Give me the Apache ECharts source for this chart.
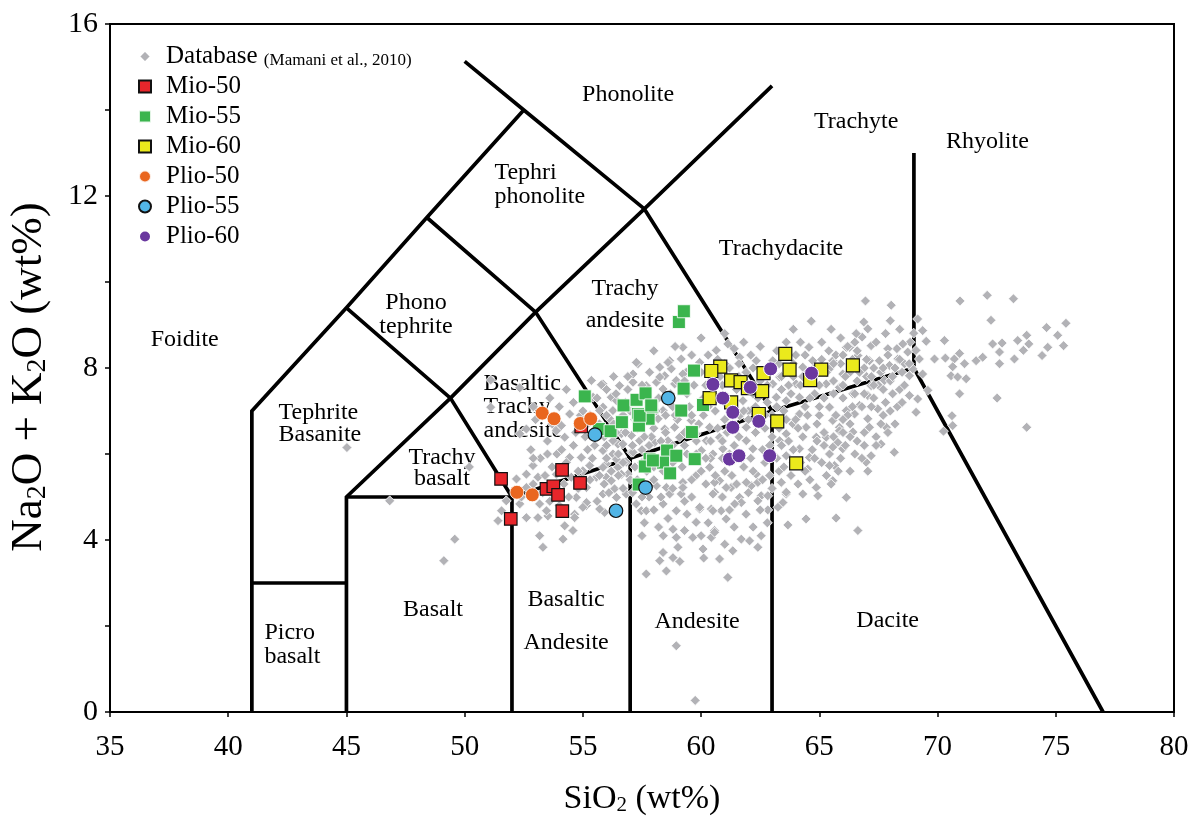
<!DOCTYPE html>
<html>
<head>
<meta charset="utf-8">
<title>TAS diagram</title>
<script src="https://cdn.jsdelivr.net/npm/echarts@6/dist/echarts.min.js"></script>
<style>
  html, body { margin: 0; padding: 0; background: #fff; }
  #chart { width: 1197px; height: 823px; }
</style>
</head>
<body>
<div id="chart"></div>
<script>
// ---- data (SiO2 wt%, Na2O + K2O wt%) ----
const seriesNames = ['Database', 'Mio-50', 'Mio-55', 'Mio-60', 'Plio-50', 'Plio-55', 'Plio-60'];
const xTicks = { min: 35, max: 80, step: 5 };
const yTicks = { min: 0, max: 16, step: 4 };

// Compiled regional database (Mamani et al., 2010)
const database = [
  [66.95,9.56],[68.04,9.46],[66.88,9.07],[67.05,8.91],[66.81,8.72],[69.16,9.14],[69.37,8.87],[68.99,8.81],
  [69.52,8.62],[68.84,8.60],[68.53,8.56],[68.28,8.45],[67.90,8.45],[67.19,8.52],[66.28,8.48],[66.63,8.29],
  [67.12,8.17],[67.54,8.17],[67.97,8.06],[68.32,8.21],[68.74,8.37],[69.09,8.41],[69.23,8.21],[68.95,7.98],
  [68.81,7.82],[69.37,7.86],[67.75,7.71],[67.19,7.59],[67.05,7.36],[66.70,7.13],[66.49,6.93],[67.47,7.05],
  [67.83,6.62],[67.05,6.82],[67.12,6.62],[66.42,6.51],[65.85,6.62],[65.78,6.27],[65.29,6.39],[65.43,6.00],
  [65.99,6.12],[67.61,6.23],[68.17,6.04],[67.19,5.96],[66.98,5.81],[65.64,5.73],[67.05,5.60],[68.81,7.36],
  [69.16,7.28],[69.09,6.97],[69.59,7.48],[70.61,6.89],[70.64,6.66],[70.25,6.53],[70.93,7.40],[70.29,8.64],
  [69.87,8.21],[70.33,8.23],[70.71,8.21],[70.93,8.34],[71.14,8.10],[70.64,8.03],[70.57,7.82],[70.85,7.79],
  [71.21,7.75],[70.95,9.56],[72.10,9.69],[73.21,9.61],[72.26,9.11],[71.63,8.17],[71.91,8.25],[72.33,8.56],
  [72.73,8.58],[72.62,8.37],[72.62,8.10],[73.25,8.21],[73.39,8.64],[73.77,8.76],[73.86,8.56],[73.63,8.41],
  [74.61,8.94],[75.43,9.04],[75.08,8.76],[75.33,8.52],[74.66,8.48],[74.42,8.29],[72.52,7.30],[73.77,6.62],
  [64.66,9.09],[61.13,8.56],[64.56,8.48],[66.14,8.48],[66.56,8.80],[65.57,8.17],[57.33,8.10],[58.67,8.17],
  [59.16,8.21],[57.82,7.90],[58.46,7.82],[58.74,7.98],[59.94,8.13],[59.37,7.90],[58.88,7.63],[58.11,7.67],
  [55.85,7.63],[56.55,7.59],[57.12,7.67],[56.20,7.32],[55.85,7.09],[58.18,6.82],[58.39,7.01],[58.67,7.17],
  [58.46,6.58],[58.88,6.62],[59.09,6.39],[58.60,6.31],[58.04,6.27],[57.40,6.31],[57.05,6.43],[56.63,6.47],
  [56.48,6.23],[56.27,6.00],[57.05,6.04],[55.99,5.77],[56.48,5.69],[56.90,5.53],[55.99,5.46],[56.34,5.19],
  [56.83,5.07],[58.11,5.26],[58.53,5.22],[59.23,5.34],[59.16,5.07],[59.79,5.50],[60.36,5.69],[60.57,5.11],
  [60.78,5.38],[61.27,5.22],[61.63,4.99],[62.12,5.26],[62.33,5.53],[62.54,5.03],[63.39,5.34],[63.60,5.07],
  [64.51,5.65],[64.87,5.22],[65.57,5.38],[66.14,4.99],[65.43,5.73],[60.22,6.31],[60.50,6.00],[60.01,6.08],
  [59.79,6.47],[59.58,6.78],[60.36,6.62],[60.78,6.39],[60.92,6.12],[61.91,6.31],[62.19,6.12],[61.91,6.62],
  [62.12,7.01],[61.63,6.89],[61.77,7.24],[63.32,6.31],[63.60,6.47],[63.88,6.70],[64.16,6.93],[64.44,6.62],
  [64.87,6.39],[64.16,6.12],[63.60,5.96],[64.58,5.92],[65.57,6.16],[65.85,6.54],[65.57,6.78],[65.43,7.09],
  [66.14,7.01],[66.42,7.40],[65.85,7.55],[65.29,7.63],[64.02,7.63],[64.16,7.32],[63.60,7.24],[63.18,7.32],
  [63.03,7.63],[63.32,7.79],[64.30,8.02],[64.72,8.17],[65.43,7.98],[65.99,7.86],[63.03,8.17],[62.33,8.17],
  [61.63,8.25],[60.64,8.41],[59.23,8.48],[57.26,8.13],
  [65.50,5.30],[64.94,5.03],[64.30,5.07],[63.60,5.11],[63.46,4.87],[63.25,4.76],[62.82,4.70],[62.82,5.03],
  [62.40,4.91],[61.70,4.87],[61.42,4.84],[61.06,4.49],[60.85,4.68],[60.43,4.72],[60.50,5.07],[59.94,4.72],
  [63.67,4.35],[64.44,4.49],[65.71,4.51],[66.63,4.22],[60.57,4.22],[60.43,4.06],[61.70,4.02],[62.05,3.98],
  [62.54,4.10],[62.40,3.83],[61.34,3.75],[60.08,3.79],[60.11,3.58],[60.78,3.56],[61.13,3.13],[61.91,5.34],
  [62.40,5.34],[61.06,5.22],[60.57,5.34],
  [49.58,4.02],[49.12,3.52],[51.41,4.45],[51.56,4.68],[53.17,4.10],[53.31,3.83],[54.16,4.02],[54.58,4.22],
  [54.23,4.33],[53.52,4.56],[53.10,4.52],[54.65,4.60],[55.15,4.80],[55.92,4.64],[57.47,4.68],[57.68,3.21],
  [58.25,3.52],[58.53,3.28],[58.39,3.71],[58.81,3.59],[59.02,3.83],[58.95,4.06],[59.30,4.22],[58.81,4.25],
  [59.79,4.41],[59.65,4.06],[60.57,4.18],[58.95,4.68],[59.94,4.76],[60.50,4.68],[58.95,1.54],[59.75,0.27],
  [51.10,7.72],[52.33,7.54],[51.10,7.09],[52.33,6.47],[52.61,6.58],[53.88,6.54],[54.09,6.66],[54.23,6.39],
  [54.44,6.93],[55.36,7.71],[55.78,7.61],[55.43,7.32],[55.71,7.01],[56.13,6.82],[56.42,7.24],[56.27,7.01],
  [58.25,8.02],[58.60,8.13],[57.68,7.59],[58.39,7.51],[58.25,7.79],[58.95,7.71],[59.23,7.86],[56.27,6.31],
  [56.69,6.23],[55.85,6.08],[56.42,5.88],[56.83,5.81],[57.12,6.04],[55.85,5.69],[55.29,5.73],[54.93,5.92],
  [54.44,5.92],[55.00,5.61],[55.57,5.46],[56.20,5.38],[56.63,5.53],[55.15,5.22],[55.85,5.07],[56.42,4.99],
  [54.72,4.99],[55.15,4.87],[55.71,4.72],[52.61,5.53],[52.89,5.73],[53.10,5.46],[52.61,5.22],[52.19,5.42],
  [51.76,4.91],[52.33,4.84],[52.61,4.52],[53.17,4.84],[53.46,4.68],[54.51,5.46],[53.88,5.53],[55.00,4.76],
  [54.65,4.52],[57.26,4.84],[57.68,4.68],[58.39,4.84],[58.67,5.07],[59.23,5.22],[57.12,7.86],
  [45.02,6.15],[46.83,4.91],[50.20,5.70],
  [60.2,7.6],[60.6,7.0],[61.0,6.8],[61.5,7.5],[62.0,7.0],[62.3,6.5],[62.8,7.2],[63.0,6.9],[63.5,7.0],
  [63.8,7.4],[64.0,6.8],[64.4,7.1],[64.8,7.4],[65.0,6.9],[65.2,7.3],[65.6,7.7],[66.0,7.6],[66.3,7.9],
  [66.6,7.7],[66.9,8.0],[67.3,8.0],[67.9,8.3],[68.2,8.0],[68.6,8.1],[66.4,8.2],[65.9,8.1],[67.0,7.8],
  [67.5,7.6],[68.0,7.7],[68.4,7.5],[67.8,7.2],[67.3,7.3],[66.8,7.1],[66.2,6.9],[64.9,6.3],[64.3,6.4],
  [63.9,6.1],[63.2,5.9],[62.7,5.8],[62.2,5.6],[61.8,5.7],[61.3,5.5],[60.9,5.9],[60.4,6.3],[59.9,6.7],
  [59.5,7.1],[59.0,6.8],[58.7,7.4],[60.0,7.9],[60.7,8.2],[61.2,8.0],[61.9,7.9],[62.6,7.9],[63.3,8.1],
  [64.0,8.3],[64.5,7.9],[65.1,8.2],[65.7,8.3],[66.2,8.5],[63.6,8.6],[62.1,8.3],[61.4,8.45],[60.3,8.3],
  [55.5,6.2],[55.9,6.4],[56.3,6.7],[56.8,6.5],[57.1,6.2],[57.5,6.1],[57.9,6.4],[58.3,6.3],[58.0,6.6],
  [57.6,6.9],[57.0,7.0],[56.5,6.0],[56.0,5.9],[55.4,5.9],[54.8,5.6],[54.3,5.8],[53.9,6.0],[54.6,6.2],
  [55.1,6.4],[58.9,6.9],[59.3,6.2],[59.6,5.9],[58.8,5.2],[58.3,5.0],[57.8,5.0],[57.3,5.4],[56.7,5.2],
  [56.1,5.1],[55.6,4.9],[54.8,5.2],[54.2,5.3],[53.7,5.7],[53.2,5.9],[52.8,6.1],[53.5,6.3],
  [59.4,6.0],[59.8,6.3],[60.1,6.9],[60.5,7.3],[60.9,7.6],[61.1,6.5],[61.4,6.2],[61.7,5.9],[62.0,6.8],
  [62.4,7.3],[62.7,6.6],[62.9,6.2],[63.3,6.6],[63.7,6.3],[62.5,7.7],[61.6,7.8],[60.8,7.8],[59.7,7.6],
  [59.4,7.4],[60.1,7.3],[61.0,7.2],[62.2,7.4],
  [63.4,7.5],[63.9,7.8],[64.2,7.6],[64.7,7.7],[65.0,7.6],[65.3,7.9],[64.6,7.3],[64.9,6.7],[65.2,6.5],
  [65.7,6.9],[66.0,6.5],[66.3,6.7],[66.6,6.3],[66.9,6.5],[66.1,6.2],[65.9,5.9],[66.5,6.0],[67.4,6.4],
  [67.7,6.9],[68.0,7.0],[68.3,7.1],[68.6,7.6],[68.1,7.4],[67.6,7.9],[67.2,7.8],[66.5,7.4],[66.0,7.3],
  [65.6,7.4],[65.0,7.1],[64.5,6.9],[64.1,6.6],[63.6,6.8],[64.7,6.1],[64.2,5.8],[63.8,5.5],[63.3,5.6],
  [62.9,5.5],[65.3,5.5],[66.3,5.6],[66.8,5.9],
  [55.6,7.3],[56.0,7.5],[56.4,7.4],[56.9,7.5],[57.3,7.3],[57.8,7.2],[58.2,7.3],[58.5,6.9],[58.8,6.2],
  [58.2,5.9],[57.7,5.6],[57.2,5.7],[56.7,5.8],[56.2,5.6],[55.7,5.5],[55.3,5.4],[55.2,6.1],[55.7,6.7],
  [56.0,6.9],[56.7,6.9],[57.3,6.6],[57.8,6.2],[58.4,5.6],[58.0,5.4],[57.5,5.0],[57.1,5.1],
  [52.4,5.0],[52.9,5.3],[53.3,5.1],[53.6,4.9],[54.0,4.8],[54.4,5.0],[54.9,5.4],[53.4,5.5],[52.9,5.9],
  [53.5,6.0],[54.1,6.1],[54.7,6.5],[55.2,6.7],[54.9,6.9],[54.6,7.2],[55.0,7.0],[53.7,6.7],[53.0,6.8],
  [52.9,7.1],[53.6,7.3],[54.3,7.5],[54.0,7.1],
  [58.0,8.4],[58.9,8.5],[59.6,8.3],[60.0,8.7],[61.0,8.8],[61.8,8.6],[62.5,8.5],[63.2,8.4],[63.9,8.9],
  [64.2,8.6],[65.1,8.6],[65.5,8.9],[65.9,8.7],[66.5,8.6],[67.4,8.6],[67.8,8.8],[68.4,8.9],[68.0,9.1],
  [59.4,4.6],[59.6,5.0],[60.2,5.3],[60.9,5.0],[61.2,4.7],[61.9,4.6],[62.2,4.3],[62.8,4.4],[62.5,4.7],
  [61.4,4.3],[61.0,3.9],[60.3,4.4],[60.0,4.1],[59.3,4.9],[58.6,4.5],[58.2,4.3],[58.0,4.7],[57.6,4.4],
  [57.5,4.1],[58.4,4.1],[59.1,3.5],
  [60.3,7.1],[60.7,6.6],[61.2,6.0],[61.6,6.4],[62.1,5.9],[62.6,6.1],[63.0,6.4],[63.4,6.2],[63.9,5.8],
  [64.4,5.6],[64.8,5.9],[65.2,6.2],[65.6,6.4],[66.0,6.8],[66.4,7.1],[66.9,7.4],[67.3,7.6],[67.7,7.5],
  [68.1,7.8],[68.5,7.9],[68.8,8.1],[68.4,8.2],[67.7,8.0],[67.0,8.2],[66.6,8.4],[66.0,8.3],[65.4,8.4],
  [64.8,8.0],[64.3,7.8],[63.7,7.6],[63.2,7.1],[62.7,6.9],[62.3,7.1],[61.8,7.0],[61.3,6.6],[60.9,6.3],
  [60.4,5.9],[60.0,5.6],[59.6,5.4],[59.2,5.7],[58.8,5.8],[58.5,6.5],[58.8,7.1],[59.3,7.7],[59.8,8.0],
  [60.4,7.8],[61.0,8.1],[61.6,8.1],[62.2,8.0],[62.8,7.6],[63.4,7.8],[63.9,8.1],[64.4,8.3],[65.0,8.0],
  [65.6,8.1],[66.1,7.8],[66.7,7.9],[67.2,7.1],[67.6,6.7],[68.2,6.7],[68.5,7.2],[67.9,6.5],[67.4,6.2],
  [66.9,6.2],[66.3,6.4],[65.8,5.6],[65.1,5.8],[64.6,5.4],[64.1,5.3],[63.5,5.7],[63.0,5.2],[62.6,5.4],
  [62.0,5.1],[61.5,5.3],[61.0,5.6],[60.6,5.5],[60.2,5.9],[59.8,6.0],[59.3,6.5],[59.6,6.9],[57.6,6.4],
  [57.2,6.8],[56.8,7.2],[56.4,6.5],[56.0,6.2],[55.6,6.4],[55.3,6.9],[55.9,5.3],[56.5,5.5],[57.0,5.4],
  [57.5,5.8],[58.0,5.7],[58.6,6.0],[58.1,7.0],[57.5,7.6],[56.9,7.8],[56.3,7.8]
];

const mio50 = [
  [51.54,5.42],[51.95,4.49],[53.46,5.19],[53.75,5.25],[53.95,5.05],[54.12,5.63],[54.88,5.33],[54.13,4.67],
  [54.93,6.64]
];
const mio55 = [
  [59.06,9.07],[59.27,9.32],[55.08,7.34],[55.68,6.58],[56.17,6.53],[56.65,6.74],[56.72,7.13],[57.27,7.26],
  [57.65,7.41],[57.33,6.93],[57.78,6.82],[57.91,7.10],[57.37,6.66],[57.40,6.89],[59.16,7.01],[59.70,7.94],
  [59.26,7.52],[60.08,7.14],[59.61,6.51],[58.56,6.08],[57.82,5.88],[57.62,5.71],[58.39,5.80],[58.69,5.55],
  [58.95,5.96],[57.36,5.29],[59.73,5.88],[57.96,5.85],[57.89,7.13]
];
const mio60 = [
  [60.81,8.03],[60.43,7.93],[61.27,7.71],[61.67,7.67],[60.36,7.30],[61.27,7.20],[62.58,7.46],[62.64,7.88],
  [62.44,6.93],[63.22,6.76],[63.56,8.33],[63.74,7.96],[65.08,7.96],[64.61,7.72],[66.42,8.06],[64.02,5.78],
  [61.98,7.53]
];
const plio50 = [
  [53.28,6.95],[53.78,6.82],[54.89,6.71],[55.33,6.82],[52.21,5.11],[52.86,5.05]
];
const plio55 = [
  [55.51,6.45],[58.61,7.30],[57.65,5.22],[56.40,4.68]
];
const plio60 = [
  [60.50,7.62],[60.92,7.30],[61.34,6.97],[61.34,6.62],[62.08,7.55],[62.94,7.98],[62.44,6.76],[61.20,5.88],
  [61.60,5.96],[62.90,5.96],[64.67,7.88]
];

// TAS field boundaries (Le Bas et al., 1986)
const boundaries = [
  [[41,0],[41,7],[45,9.4],[48.4,11.5],[52.5,14]],
  [[41,3],[45,3]],
  [[45,0],[45,5],[49.4,7.3],[53,9.3],[57.6,11.7],[63,14.56]],
  [[45,5],[52,5]],
  [[52,0],[52,5],[57,5.9],[63,7],[69,8]],
  [[45,9.4],[49.4,7.3],[52,5]],
  [[48.4,11.5],[53,9.3],[57,5.9],[57,0]],
  [[50,15.13],[52.5,14],[57.6,11.7],[63,7],[63,0]],
  [[69,13],[69,8],[77,0]]
];

// Field names with their anchor in data space
const fieldLabels = [
  ['Foidite', 38.16, 8.65],
  ['Tephrite\nBasanite', 42.11, 6.70],
  ['Phono\ntephrite', 47.94, 9.23],
  ['Tephri\nphonolite', 51.24, 12.26],
  ['Phonolite', 56.91, 14.35],
  ['Trachy\nbasalt', 49.04, 5.66],
  ['Basaltic\nTrachy\nandesite', 50.78, 7.09],
  ['Trachy\nandesite', 56.78, 9.47],
  ['Trachydacite', 63.38, 10.78],
  ['Trachyte', 66.56, 13.72],
  ['Rhyolite', 72.11, 13.26],
  ['Picro\nbasalt', 41.51, 1.56],
  ['Basalt', 48.66, 2.37],
  ['Basaltic', 54.29, 2.60],
  ['Andesite', 54.29, 1.60],
  ['Andesite', 59.83, 2.10],
  ['Dacite', 67.89, 2.12]
];

// ---- rendering ----
const SERIF = '"Liberation Serif", "Times New Roman", serif';

// text layout of multi-line field names
const leftAligned = { 'Tephrite\nBasanite': 22, 'Tephri\nphonolite': 24, 'Basaltic\nTrachy\nandesite': 23.5, 'Picro\nbasalt': 24 };
const centreLineHeight = { 'Phono\ntephrite': 24, 'Trachy\nandesite': 32, 'Trachy\nbasalt': 21 };

const labelData = fieldLabels.map(([name, x, y]) => {
  const item = { name: name, value: [x, y] };
  if (leftAligned[name]) {
    item.label = { position: 'right', distance: 0, align: 'left', lineHeight: leftAligned[name] };
  } else {
    item.label = { position: 'inside', align: 'center', lineHeight: centreLineHeight[name] || 24 };
  }
  return item;
});

const markerStyles = {
  'Database': { symbol: 'diamond', size: 10, color: '#b2b2b6', border: '#ffffff', bw: 0.8, z: 3 },
  'Mio-50':   { symbol: 'rect', size: 12.5, color: '#e8262b', border: '#111111', bw: 1.2, z: 4 },
  'Mio-55':   { symbol: 'rect', size: 13, color: '#3bb54e', border: 'rgba(255,255,255,0.85)', bw: 1, z: 4 },
  'Mio-60':   { symbol: 'rect', size: 13, color: '#ebea1c', border: '#111111', bw: 1.2, z: 4 },
  'Plio-50':  { symbol: 'circle', size: 14, color: '#e9661f', border: 'rgba(255,255,255,0.85)', bw: 1, z: 4 },
  'Plio-55':  { symbol: 'circle', size: 13.5, color: '#52b5e6', border: '#111111', bw: 1.2, z: 4 },
  'Plio-60':  { symbol: 'circle', size: 14, color: '#6a389f', border: '#ffffff', bw: 1, z: 4 }
};
const seriesData = [database, mio50, mio55, mio60, plio50, plio55, plio60];

const scatterSeries = seriesNames.map((name, i) => {
  const st = markerStyles[name];
  return {
    name: name,
    type: 'scatter',
    data: seriesData[i],
    symbol: st.symbol,
    symbolSize: st.size,
    z: st.z,
    itemStyle: { color: st.color, borderColor: st.border, borderWidth: st.bw, opacity: 1 },
    emphasis: { disabled: true },
    silent: true
  };
});

const boundarySeries = boundaries.map((pts, i) => ({
  name: 'boundary-' + i,
  type: 'line',
  data: pts,
  showSymbol: false,
  symbol: 'none',
  z: 1,
  silent: true,
  lineStyle: { color: '#000', width: 3.7, join: 'miter', cap: 'butt' },
  emphasis: { disabled: true }
}));

const labelSeries = {
  name: 'fields',
  type: 'scatter',
  data: labelData,
  symbolSize: 1,
  z: 2,
  silent: true,
  itemStyle: { color: 'rgba(0,0,0,0)', opacity: 1 },
  label: {
    show: true,
    formatter: p => p.name,
    fontFamily: SERIF,
    fontSize: 24,
    color: '#000',
    opacity: 1,
    textBorderWidth: 0
  },
  labelLayout: { hideOverlap: false },
  emphasis: { disabled: true }
};

const chart = echarts.init(document.getElementById('chart'), null, { renderer: 'canvas' });
chart.setOption({
  animation: false,
  backgroundColor: '#ffffff',
  grid: {
    left: 110, top: 24, width: 1064, height: 688,
    show: true, borderColor: '#000', borderWidth: 2, backgroundColor: 'transparent',
    containLabel: false, outerBoundsMode: 'none'
  },
  legend: {
    data: seriesNames,
    orient: 'vertical',
    left: 138,
    top: 44,
    padding: 0,
    itemWidth: 12,
    itemHeight: 12,
    itemGap: 5,
    selectedMode: false,
    formatter: name => name === 'Database'
      ? '{g| }{a|Database }{b|(Mamani et al., 2010)}'
      : '{g| }{a|' + name + '}',
    textStyle: {
      fontFamily: SERIF,
      color: '#000',
      rich: {
        g: { width: 10, fontSize: 10, lineHeight: 25 },
        a: { fontFamily: SERIF, fontSize: 25, lineHeight: 25, color: '#000', verticalAlign: 'bottom' },
        b: { fontFamily: SERIF, fontSize: 17, lineHeight: 17, color: '#000', verticalAlign: 'bottom' }
      }
    }
  },
  xAxis: {
    type: 'value',
    min: xTicks.min, max: xTicks.max, interval: xTicks.step,
    name: '{m|SiO}{s|2}{m| (wt%)}',
    nameLocation: 'middle',
    nameGap: 70,
    nameTextStyle: {
      rich: {
        m: { fontFamily: SERIF, fontSize: 34, lineHeight: 34, color: '#000', verticalAlign: 'bottom' },
        s: { fontFamily: SERIF, fontSize: 21, lineHeight: 21, color: '#000', verticalAlign: 'bottom' }
      }
    },
    axisLine: { show: true, onZero: false, lineStyle: { color: '#000', width: 2 } },
    axisTick: { show: true, inside: false, length: 5, lineStyle: { color: '#000', width: 1.5 } },
    axisLabel: { margin: 21, fontFamily: SERIF, fontSize: 29, color: '#000' },
    splitLine: { show: false }
  },
  yAxis: {
    type: 'value',
    min: yTicks.min, max: yTicks.max, interval: yTicks.step,
    name: '{m|Na}{s|2}{m|O + K}{s|2}{m|O (wt%)}',
    nameLocation: 'middle',
    nameRotate: 90,
    nameGap: 58,
    nameTextStyle: {
      padding: [0, 18, 0, 0],
      rich: {
        m: { fontFamily: SERIF, fontSize: 45, lineHeight: 45, color: '#000', verticalAlign: 'bottom' },
        s: { fontFamily: SERIF, fontSize: 28, lineHeight: 28, color: '#000', verticalAlign: 'bottom' }
      }
    },
    axisLine: { show: true, onZero: false, lineStyle: { color: '#000', width: 2 } },
    axisTick: { show: true, inside: false, length: 5, lineStyle: { color: '#000', width: 1.5 } },
    minorTick: { show: true, splitNumber: 2, length: 5, lineStyle: { color: '#000', width: 1.5 } },
    axisLabel: { margin: 12, fontFamily: SERIF, fontSize: 30, color: '#000' },
    splitLine: { show: false },
    minorSplitLine: { show: false }
  },
  series: boundarySeries.concat([labelSeries], scatterSeries)
});
</script>
</body>
</html>
